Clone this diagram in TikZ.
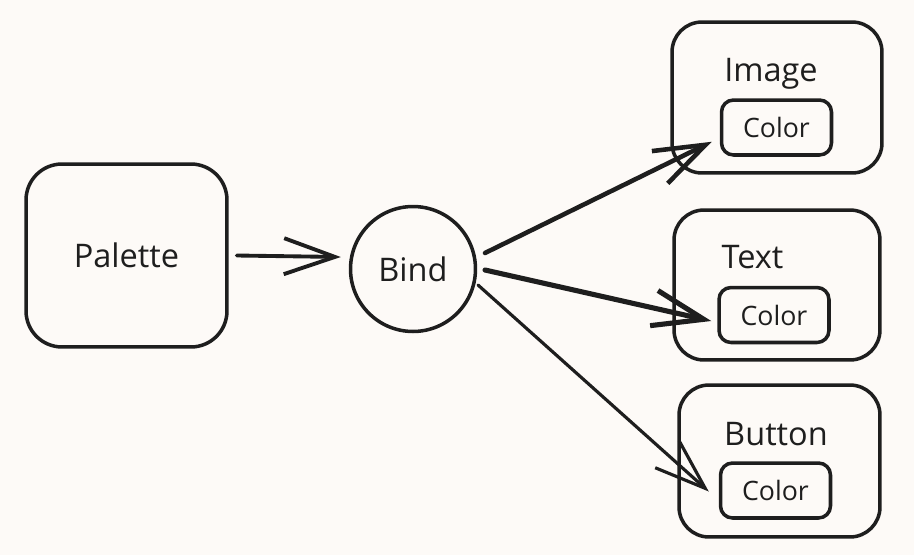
\documentclass[tikz,border=0pt]{standalone}
\usepackage{fontspec}
\setmainfont{Open Sans}
\usetikzlibrary{arrows.meta,positioning,calc}
\definecolor{SketchInk}{HTML}{1E1E1E}
\definecolor{SketchPaper}{HTML}{FDFAF7}

\begin{document}
\begin{tikzpicture}[x=0.02cm,y=-0.02cm,>=Stealth]
  \tikzset{
    shell/.style={draw=SketchInk,line width=2pt,rounded corners=30*0.02cm,
      minimum width=#1},
    title/.style={anchor=base,text=SketchInk,font=\fontsize{18.5}{20}\selectfont,inner sep=0pt},
    chip/.style={draw=SketchInk,line width=2pt,rounded corners=12*0.02cm,
      minimum width=2.2cm,minimum height=1.1cm,inner sep=0pt,text=SketchInk,
      font=\fontsize{15.2}{17}\selectfont},
    link/.style={-{Straight Barb[length=1.02cm,width=0.72cm]},draw=SketchInk,
      line cap=round,line join=round}
  }
  \fill[SketchPaper] (0,0) rectangle (914,555);
  \useasboundingbox (0,0) rectangle (914,555);
  % source and hub
  \node[shell=4.02cm,minimum height=3.66cm,rounded corners=36*0.02cm,
    text=SketchInk,font=\fontsize{18.5}{20}\selectfont] (palette) at (126.5,255.5) {Palette};
  \node[circle,draw=SketchInk,line width=2pt,minimum size=2.5cm,inner sep=0pt,
    text=SketchInk,font=\fontsize{18.5}{20}\selectfont] (bind) at (413,269) {Bind};
  % targets
  \node[shell=4.2cm,minimum height=3.02cm] (image) at (777,97.5) {};
  \node[title] (imagetitle) at (771,81) {Image};
  \node[chip] (imagecolor) at (776.5,127.5) {Color};
  \node[shell=4.12cm,minimum height=3.0cm] (text) at (777,285) {};
  \node[title] (texttitle) at (752.5,268) {Text};
  \node[chip] (textcolor) at (774,315) {Color};
  \node[shell=4.02cm,minimum height=3.04cm] (button) at (779.5,461) {};
  \node[title] (buttontitle) at (776,445) {Button};
  \node[chip] (buttoncolor) at (775.5,490.5) {Color};
  % connectors
  \draw[link,line width=2.2pt] ($(palette.east)+(8,0)$) -- ($(bind.west)+(-8,-12)$);
  \draw[link,line width=2.6pt] ($(bind)+(72,-16)$) -- ($(imagecolor.south west)+(-8,-15)$);
  \draw[link,line width=2.9pt] ($(bind)+(72,1)$) -- ($(textcolor.west)+(-6,6)$);
  \draw[link,line width=1.8pt] ($(bind)+(65,16)$) -- ($(buttoncolor.west)+(-10,1)$);
\end{tikzpicture}
\end{document}
